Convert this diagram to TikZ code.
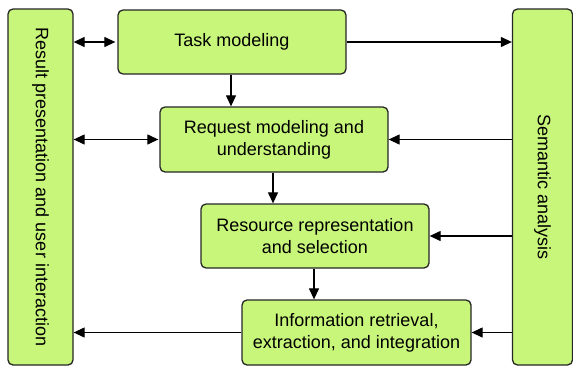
\documentclass[tikz,border=0pt]{standalone}
\usepackage{fontspec}
\setmainfont{Liberation Sans}
\usetikzlibrary{arrows.meta}
\definecolor{boxgreen}{RGB}{200,246,122}
\begin{document}
\begin{tikzpicture}[x=1pt,y=-1pt,
  box/.style={draw=black!85,line width=1.3pt,fill=boxgreen,rounded corners=5pt,inner sep=0pt,
    font=\fontsize{18}{22}\selectfont,align=center},
  conn/.style={line width=1.2pt,-{Triangle[length=11pt,width=10pt]}},
  bconn/.style={line width=1.2pt,{Triangle[length=11pt,width=10pt]}-{Triangle[length=11pt,width=10pt]}}]
\useasboundingbox (0,0) rectangle (573,367);
\node[box,minimum width=65pt,minimum height=356pt] (L) at (40.5,187) {};
\node[rotate=-90,font=\fontsize{18}{22}\selectfont] (Lt) at (L.center) {Result presentation and user interaction};
\node[box,minimum width=60pt,minimum height=356pt] (R) at (542.5,187) {};
\node[rotate=-90,font=\fontsize{18}{22}\selectfont] (Rt) at (R.center) {Semantic analysis};
\node[box,minimum width=228pt,minimum height=64pt] (T) at (232,42) {Task modeling};
\node[box,minimum width=228pt,minimum height=65pt] (Q) at (274,139.5) {Request modeling and\\understanding};
\node[box,minimum width=228pt,minimum height=64pt] (S) at (315,236) {Resource representation\\and selection};
\node[box,minimum width=229pt,minimum height=65pt] (I) at (356.5,332.5) {Information retrieval,\\extraction, and integration};
\draw[bconn,shorten >=2pt] (L.east |- T) -- (T.west);
\draw[conn] (T.east) -- (R.west |- T);
\draw[conn] (T.south -| 231,0) -- (231,0 |- Q.north);
\draw[bconn,shorten >=1pt] (L.east |- Q) -- (Q.west);
\draw[conn] (R.west |- Q) -- (Q.east);
\draw[conn] (Q.south -| 273,0) -- (273,0 |- S.north);
\draw[conn] (R.west |- S) -- (S.east);
\draw[conn] (S.south -| 314,0) -- (314,0 |- I.north);
\draw[conn] (R.west |- I) -- (I.east);
\draw[conn] (I.west) -- (L.east |- I);
\end{tikzpicture}
\end{document}
